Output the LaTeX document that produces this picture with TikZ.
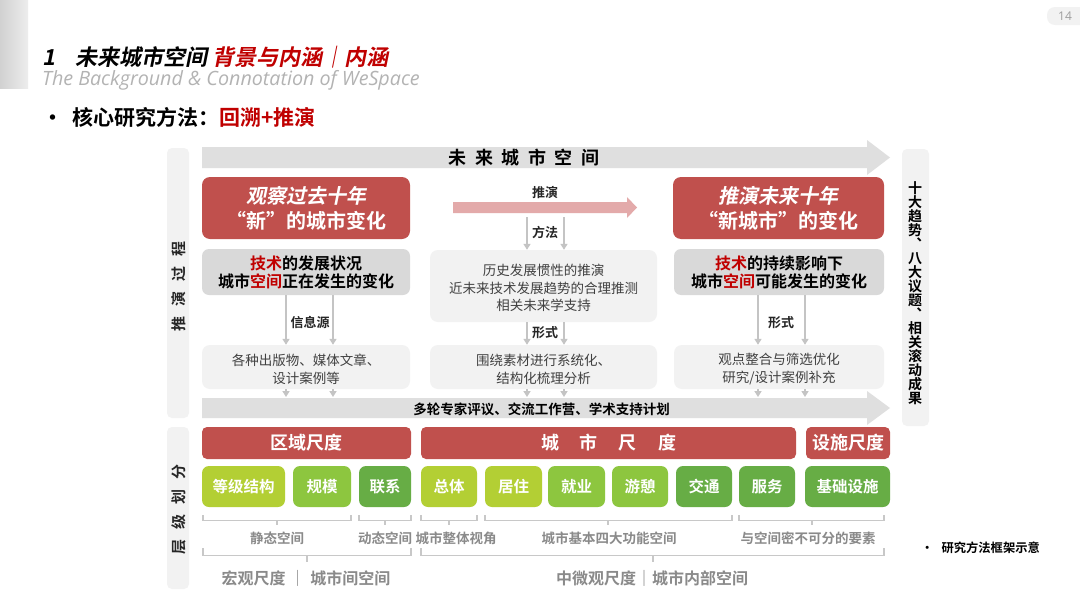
\documentclass[tikz,border=0pt]{standalone}
\usepackage{fontspec}
\setmainfont{Noto Sans CJK SC}[BoldFont={Noto Sans CJK SC Bold}, ItalicFont={Noto Sans CJK SC}, ItalicFeatures={FakeSlant=0.2}, BoldItalicFont={Noto Sans CJK SC Bold}, BoldItalicFeatures={FakeSlant=0.2}]
\newfontfamily\latinfont{Open Sans}
\usetikzlibrary{arrows.meta}
\definecolor{cred}{HTML}{C0504D}
\definecolor{tred}{HTML}{C00000}
\definecolor{cgray}{HTML}{D9D9D9}
\definecolor{clight}{HTML}{F2F2F2}
\definecolor{cband}{HTML}{DFDFDF}
\definecolor{cpink}{HTML}{E3AAAA}
\definecolor{ctext}{HTML}{404040}
\definecolor{cdark}{HTML}{262626}
\definecolor{carr}{HTML}{C4C4C4}
\definecolor{cbrk}{HTML}{C8C8C8}
\definecolor{cbl}{HTML}{8A8A8A}
\definecolor{csub}{HTML}{B3B3B3}
\definecolor{glime}{HTML}{B3CF34}
\definecolor{gmid}{HTML}{8DC63F}
\definecolor{gdark}{HTML}{67AD45}
\newcommand{\fsz}[2]{\fontsize{#1}{#2}\selectfont}
\newcommand{\bxs}{\rule{0pt}{16pt}}
\tikzset{
 redbox/.style={fill=cred, rounded corners=8pt, text=white, inner sep=0pt, align=center, font=\bfseries\fsz{20}{25}},
 graybox/.style={fill=cgray, rounded corners=7pt, inner sep=0pt, align=center, font=\bfseries\fsz{16}{18}},
 lightbox/.style={fill=clight, rounded corners=8pt, inner sep=0pt, align=center, text=ctext, font=\fsz{13.5}{18}},
 hdr/.style={fill=cred, rounded corners=5pt, text=white, inner sep=0pt, minimum height=32pt, font=\bfseries\fsz{18}{18}},
 gbox/.style={rounded corners=7pt, text=white, inner sep=0pt, minimum height=41pt, font=\bfseries\fsz{15.5}{15.5}},
 darr/.style={draw=carr, line width=2pt, -{Triangle[width=7pt,length=6pt]}},
 lab/.style={font=\bfseries\fsz{13}{13}, text=cdark, inner sep=1pt},
 brk/.style={draw=cbrk, line width=1.2pt},
 blab/.style={font=\bfseries\fsz{13.5}{13.5}, text=cbl, inner sep=1pt},
 blab2/.style={font=\bfseries\fsz{16}{16}, text=cbl, inner sep=1pt},
 vpanel/.style={fill=clight, rounded corners=5pt},
}
\begin{document}
\begin{tikzpicture}[x=1pt,y=-1pt]
\useasboundingbox (0,0) rectangle (1080,608);
\fill[white] (0,0) rectangle (1080,608);
% corner picture
\shade[left color=black!18, right color=black!7] (0,0) rectangle (28,88);
% page number
\fill[clight, rounded corners=8pt] (1047,7) rectangle (1090,25);
\node[text=black!38, font=\latinfont\fsz{12}{12}] (pg) at (1065,16) {14};
% title
\node[anchor=base west, inner sep=0pt] (title) at (42,65.5) {\bfseries\itshape\fsz{22}{22}1\hspace{20pt}未来城市空间\hspace{5pt}\textcolor{tred}{背景与内涵｜内涵}};
\node[anchor=base west, inner sep=0pt, text=csub] (subtitle) at (42,85.5) {\latinfont\itshape\fsz{19.7}{19.7}The Background \& Connotation of WeSpace};
\node[anchor=base west, inner sep=0pt] (bullet) at (42,125.5) {\bfseries\fsz{21}{21}•\hspace{9pt}核心研究方法：\textcolor{tred}{回溯+推演}};
% left / right vertical panels
\fill[vpanel] (167,148) rectangle (189,418);
\fill[vpanel] (167,427) rectangle (189,589);
\fill[vpanel] (902,149) rectangle (929,426);
\node[rotate=90, font=\bfseries\fsz{15}{15}, text=cdark] (vl1) at (178.5,286) {推\hspace{10pt}演\hspace{10pt}过\hspace{10pt}程};
\node[rotate=90, font=\bfseries\fsz{15}{15}, text=cdark] (vl2) at (178.5,509) {层\hspace{10pt}级\hspace{10pt}划\hspace{10pt}分};
\node[align=center, font=\bfseries\fsz{14}{14}, text=black, inner sep=0pt] (vr) at (915,293.5)
 {十\\大\\趋\\势\\︑\\八\\大\\议\\题\\︑\\相\\关\\滚\\动\\成\\果};
% big grey arrows
\fill[cband] (202,147) -- (867,147) -- (867,140) -- (890,157.5) -- (867,175) -- (867,168) -- (202,168) -- cycle;
\node[font=\bfseries\fsz{18}{18}, text=black] (band1) at (524,158) {未\hspace{8.5pt}来\hspace{8.5pt}城\hspace{8.5pt}市\hspace{8.5pt}空\hspace{8.5pt}间};
\fill[cband] (202,398) -- (867,398) -- (867,391) -- (890,408) -- (867,425) -- (867,418) -- (202,418) -- cycle;
\node[font=\bfseries\fsz{13.5}{13.5}, text=black] (band2) at (541.5,409.5) {多轮专家评议、交流工作营、学术支持计划};
\coordinate (band2top) at (541,397);
% left column
\node[redbox, minimum width=208pt, minimum height=62pt] (r1) at (306,208)
 {{\itshape 观察过去十年}\\“新”的城市变化};
\node[graybox, minimum width=208pt, minimum height=46pt] (g1) at (306,272)
 {\textcolor{tred}{技术}的发展状况\\城市\textcolor{tred}{空间}正在发生的变化};
\node[lightbox, minimum width=208pt, minimum height=44pt] (l1) at (306,367)
 {\bxs 各种出版物、媒体文章、\\设计案例等};
% middle column
\fill[cpink] (453,202) -- (627,202) -- (627,197) -- (637,207.5) -- (627,218) -- (627,213) -- (453,213) -- cycle;
\coordinate (pinkbot) at (545,217);
\node[lab] (tuiyan) at (545,193) {推演};
\node[lightbox, minimum width=227pt, minimum height=72pt, font=\fsz{13.5}{17.5}] (m1) at (543.5,286)
 {\bxs 历史发展惯性的推演\\近未来技术发展趋势的合理推测\\相关未来学支持};
\node[lightbox, minimum width=227pt, minimum height=44pt] (m2) at (543.5,367)
 {\bxs 围绕素材进行系统化、\\结构化梳理分析};
% right column
\node[redbox, minimum width=211pt, minimum height=62pt] (r2) at (778.5,208)
 {{\itshape 推演未来十年}\\“新城市”的变化};
\node[graybox, minimum width=210pt, minimum height=46pt] (g2) at (779,272)
 {\textcolor{tred}{技术}的持续影响下\\城市\textcolor{tred}{空间}可能发生的变化};
\node[lightbox, minimum width=210pt, minimum height=44pt] (l2) at (779,367)
 {\bxs 观点整合与筛选优化\\研究/设计案例补充};
% connectors left
\foreach \dx in {-20,27}{
 \draw[darr] ([xshift=\dx pt]g1.south) -- ([xshift=\dx pt]l1.north);
 \draw[darr] ([xshift=\dx pt]l1.south) -- ([xshift=\dx pt]l1.south |- band2top);
}
\node[lab] (xinxi) at (310,323) {信息源};
% connectors middle
\foreach \dx in {-16.5,20.5}{
 \draw[darr] ([xshift=\dx pt]m1.north |- pinkbot) -- ([xshift=\dx pt]m1.north);
 \draw[darr] ([xshift=\dx pt]m1.south) -- ([xshift=\dx pt]m2.north);
 \draw[darr] ([xshift=\dx pt]m2.south) -- ([xshift=\dx pt]m2.south |- band2top);
}
\node[lab] (fangfa) at (545,232) {方法};
\node[lab] (xingshi1) at (545,333) {形式};
% connectors right
\foreach \dx in {-21,26}{
 \draw[darr] ([xshift=\dx pt]g2.south) -- ([xshift=\dx pt]l2.north);
 \draw[darr] ([xshift=\dx pt]l2.south) -- ([xshift=\dx pt]l2.south |- band2top);
}
\node[lab] (xingshi2) at (781,323) {形式};
% scale headers
\node[hdr, minimum width=209pt] (h1) at (306.5,443) {区域尺度};
\node[hdr, minimum width=375pt] (h2) at (608.5,443) {城\hspace{21pt}市\hspace{21pt}尺\hspace{21pt}度};
\node[hdr, minimum width=84pt] (h3) at (848,443) {设施尺度};
% green boxes
\node[gbox, fill=glime, minimum width=83pt] (b1) at (243.5,486.5) {等级结构};
\node[gbox, fill=gmid, minimum width=58pt] (b2) at (322,486.5) {规模};
\node[gbox, fill=gdark, minimum width=52pt] (b3) at (385,486.5) {联系};
\node[gbox, fill=glime, minimum width=56pt] (b4) at (449,486.5) {总体};
\node[gbox, fill=glime, minimum width=57pt] (b5) at (513.5,486.5) {居住};
\node[gbox, fill=gmid, minimum width=57pt] (b6) at (576.5,486.5) {就业};
\node[gbox, fill=gmid, minimum width=56pt] (b7) at (640,486.5) {游憩};
\node[gbox, fill=gdark, minimum width=56pt] (b8) at (704,486.5) {交通};
\node[gbox, fill=gdark, minimum width=56pt] (b9) at (767,486.5) {服务};
\node[gbox, fill=gdark, minimum width=85pt] (b10) at (847.5,486.5) {基础设施};
% brackets level 1
\foreach \a/\b/\c in {203/351/277, 359/411/385, 421/477/449, 485/732/608, 739/884/812}{
 \draw[brk] (\a,515) -- (\a,520.5) -- (\b,520.5) -- (\b,515);
 \draw[brk] (\c,520.5) -- (\c,525);
}
\node[blab] (s1) at (277,538) {静态空间};
\node[blab] (s2) at (385,538) {动态空间};
\node[blab] (s3) at (456,538) {城市整体视角};
\node[blab] (s4) at (609,538) {城市基本四大功能空间};
\node[blab] (s5) at (808,538) {与空间密不可分的要素};
% brackets level 2
\foreach \a/\b/\c in {203/411/307, 421/884/653}{
 \draw[brk] (\a,548) -- (\a,555.5) -- (\b,555.5) -- (\b,548);
 \draw[brk] (\c,555.5) -- (\c,562);
}
\node[blab2] (t1) at (306,578) {宏观尺度\hspace{4pt}｜\hspace{5pt}城市间空间};
\node[blab2] (t2) at (652,578) {中微观尺度｜城市内部空间};
% caption
\node[anchor=west, font=\bfseries\fsz{12.3}{12.3}, text=black, inner sep=0pt] (cap) at (921,548) {•\hspace{8pt}研究方法框架示意};
\end{tikzpicture}
\end{document}
